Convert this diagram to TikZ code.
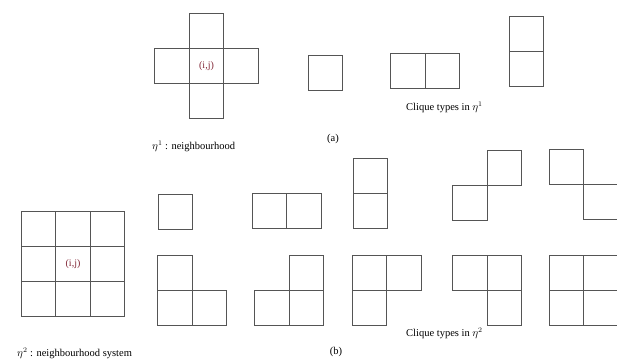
\documentclass[tikz,border=0pt]{standalone}
\usepackage{fontspec}
\setmainfont{Liberation Serif}
\definecolor{gridline}{RGB}{85,85,85}
\definecolor{sitered}{RGB}{130,40,55}
\usetikzlibrary{positioning}
\tikzset{
  cell/.style={rectangle,draw=gridline,line width=1pt,inner sep=0pt,outer sep=0pt,
    minimum width=34.5pt,minimum height=35pt},
  site/.style={font=\fontsize{10}{12}\selectfont,text=sitered},
  captext/.style={font=\fontsize{10.5}{12}\selectfont,inner sep=0pt},
}

\begin{document}
\begin{tikzpicture}[x=1pt,y=-1pt,node distance=0pt]
  \useasboundingbox (0,0) rectangle (617,360);

  % first order neighbourhood
  \node[cell] (nc) at (206.5,66) {};
  \node[site] at (nc) {(i,j)};
  \node[cell,above=of nc] (nn) {};
  \node[cell,below=of nc] (ns) {};
  \node[cell,left=of nc] (nw) {};
  \node[cell,right=of nc] (ne) {};
  \node[captext,anchor=west] (lbla) at (152,146) {$\eta^1$ : neighbourhood};
  \node[captext] (taga) at (333,139) {(a)};

  % cliques of eta^1
  \node[cell] (a1) at (325.5,73) {};
  \node[cell] (a2l) at (408,70.5) {};
  \node[cell,right=of a2l] (a2r) {};
  \node[cell] (a3t) at (526.5,34) {};
  \node[cell,below=of a3t] (a3b) {};
  \node[captext,anchor=west] (cla) at (406,107) {Clique types in $\eta^1$};

  % second order neighbourhood
  \node[cell] (gc) at (73,264) {};
  \node[site] at (gc) {(i,j)};
  \node[cell,above=of gc] (gn) {};
  \node[cell,below=of gc] (gs) {};
  \node[cell,left=of gc] (gw) {};
  \node[cell,right=of gc] (ge) {};
  \node[cell,left=of gn] (gnw) {};
  \node[cell,right=of gn] (gne) {};
  \node[cell,left=of gs] (gsw) {};
  \node[cell,right=of gs] (gse) {};
  \node[captext,anchor=west] (lblb) at (17,353) {$\eta^2$ : neighbourhood system};
  \node[captext] (tagb) at (336,352) {(b)};

  % cliques of eta^2, upper row
  \node[cell] (b1) at (175.5,211.5) {};
  \node[cell] (b2l) at (269.5,211) {};
  \node[cell,right=of b2l] (b2r) {};
  \node[cell] (b3b) at (370.5,211) {};
  \node[cell,above=of b3b] (b3t) {};
  \node[cell] (b4l) at (470,202.5) {};
  \node[cell,above right=of b4l] (b4r) {};
  \node[cell] (b5l) at (566.5,166.5) {};
  \node[cell,below right=of b5l] (b5r) {};

  % cliques of eta^2, lower row
  \node[cell] (c1t) at (175,272.5) {};
  \node[cell,below=of c1t] (c1l) {};
  \node[cell,right=of c1l] (c1r) {};
  \node[cell] (c2t) at (306.5,272.5) {};
  \node[cell,below=of c2t] (c2r) {};
  \node[cell,left=of c2r] (c2l) {};
  \node[cell] (c3l) at (369.5,273) {};
  \node[cell,right=of c3l] (c3r) {};
  \node[cell,below=of c3l] (c3b) {};
  \node[cell] (c4l) at (470,273) {};
  \node[cell,right=of c4l] (c4r) {};
  \node[cell,below=of c4r] (c4b) {};
  \node[cell] (c5a) at (566.5,273) {};
  \node[cell,right=of c5a] (c5b) {};
  \node[cell,below=of c5a] (c5c) {};
  \node[cell,right=of c5c] (c5d) {};
  \node[captext,anchor=west] (clb) at (406,333) {Clique types in $\eta^2$};
\end{tikzpicture}
\end{document}
